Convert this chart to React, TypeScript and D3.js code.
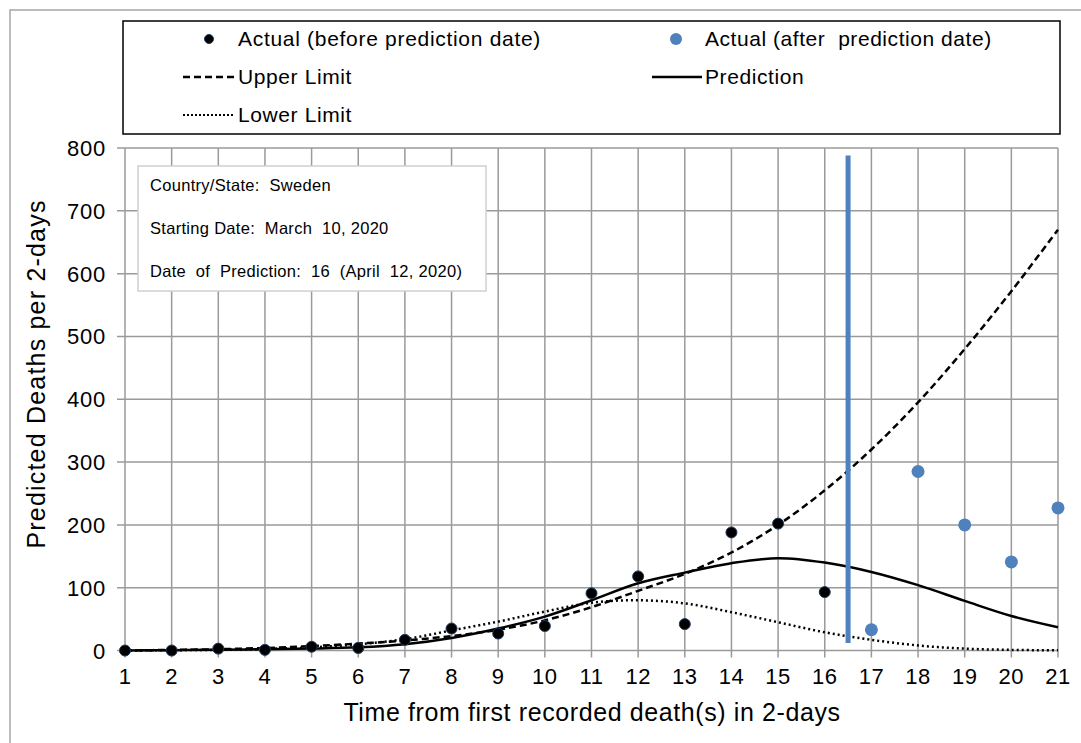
import React from "react";
import * as d3 from "d3";

const timeSteps = [1, 2, 3, 4, 5, 6, 7, 8, 9, 10, 11, 12, 13, 14, 15, 16, 17, 18, 19, 20, 21];
const upperLimit = [0, 1, 2, 4, 7, 11, 16, 23, 33, 48, 69, 95, 122, 156, 200, 255, 320, 395, 480, 572, 670];
const prediction = [0, 0.5, 1, 2, 3, 5, 10, 20, 35, 54, 80, 107, 124, 139, 147, 140, 125, 104, 79, 55, 37];
const lowerLimit = [0, 0.5, 1, 2.5, 5, 10, 18, 32, 46, 62, 76, 80, 75, 61, 45, 29, 17, 8, 3, 1, 0.3];

const actualBeforeX = [1, 2, 3, 4, 5, 6, 7, 8, 9, 10, 11, 12, 13, 14, 15, 16];
const actualBeforeY = [0, 0, 3, 1, 6, 4, 17, 35, 27, 39, 91, 118, 42, 188, 202, 93];
const actualAfterX = [17, 18, 19, 20, 21];
const actualAfterY = [33, 285, 200, 141, 227];

const predictionDate = 16.5;
const predictionLineRange = [12, 788];

const yTicks = [0, 100, 200, 300, 400, 500, 600, 700, 800];
const xTicks = timeSteps;

const infoLines = [
  "Country/State:  Sweden",
  "Starting Date:  March  10, 2020",
  "Date  of  Prediction:  16  (April  12, 2020)",
];

const FONT = "'Liberation Sans', Arial, sans-serif";
const BLUE = "#4F81BD";

export default function App() {
  const x = d3.scaleLinear().domain([1, 21]).range([125, 1058]);
  const y = d3.scaleLinear().domain([0, 800]).range([650.5, 148]);

  const mk = (vals: number[]) =>
    d3
      .line<number>()
      .x((_, i) => x(timeSteps[i]))
      .y((d) => y(d))
      .curve(d3.curveCatmullRom.alpha(0.5))(vals) || "";

  return (
    <svg width={1081} height={743} style={{ position: "absolute", left: 0, top: 0, background: "#fff" }}>
      <rect x={0} y={0} width={1081} height={743} fill="#fff" />
      {/* outer frame */}
      <rect x={10} y={10} width={1090} height={760} fill="none" stroke="#a6a6a6" strokeWidth={1.5} />

      {/* grid */}
      {yTicks.map((t) => (
        <line key={"gy" + t} x1={117} x2={x(21)} y1={y(t)} y2={y(t)} stroke="#9a9a9a" strokeWidth={1.5} />
      ))}
      {xTicks.map((t) => (
        <line key={"gx" + t} x1={x(t)} x2={x(t)} y1={y(800)} y2={y(0) + 7} stroke="#9a9a9a" strokeWidth={1.5} />
      ))}

      {/* y tick labels */}
      {yTicks.map((t) => (
        <text key={"ty" + t} x={106} y={y(t) + 8} textAnchor="end" fontFamily={FONT} fontSize={22} letterSpacing={0.8} fill="#000">
          {t}
        </text>
      ))}
      {/* x tick labels */}
      {xTicks.map((t) => (
        <text key={"tx" + t} x={x(t)} y={684} textAnchor="middle" fontFamily={FONT} fontSize={22} letterSpacing={0.5} fill="#000">
          {t}
        </text>
      ))}

      {/* axis titles */}
      <text x={592} y={721} textAnchor="middle" fontFamily={FONT} fontSize={25} letterSpacing={0.6} fill="#000">
        Time from first recorded death(s) in 2-days
      </text>
      <text
        transform={`translate(45, 374) rotate(-90)`}
        textAnchor="middle"
        fontFamily={FONT}
        fontSize={25}
        letterSpacing={1.2}
        fill="#000"
      >
        Predicted Deaths per 2-days
      </text>

      {/* series lines */}
      <path d={mk(lowerLimit)} fill="none" stroke="#000" strokeWidth={2.5} strokeDasharray="2,3" />
      <path d={mk(upperLimit)} fill="none" stroke="#000" strokeWidth={2.5} strokeDasharray="7,4" />
      <path d={mk(prediction)} fill="none" stroke="#000" strokeWidth={2.5} />

      {/* prediction date line */}
      <line
        x1={x(predictionDate)}
        x2={x(predictionDate)}
        y1={y(predictionLineRange[0])}
        y2={y(predictionLineRange[1])}
        stroke={BLUE}
        strokeWidth={5}
      />

      {/* actual points */}
      {actualBeforeX.map((t, i) => (
        <circle key={"b" + t} cx={x(t)} cy={y(actualBeforeY[i])} r={5.5} fill="#000" stroke="#1f3a60" strokeWidth={1} />
      ))}
      {actualAfterX.map((t, i) => (
        <circle key={"a" + t} cx={x(t)} cy={y(actualAfterY[i])} r={6.5} fill={BLUE} />
      ))}

      {/* info box */}
      <rect x={138} y={166} width={348} height={125} fill="#fff" stroke="#d0d0d0" strokeWidth={1.5} />
      {infoLines.map((s, i) => (
        <text key={"info" + i} x={150} y={191 + i * 43} fontFamily={FONT} fontSize={16.5} letterSpacing={0.3} fill="#000" style={{ whiteSpace: "pre" }}>
          {s}
        </text>
      ))}

      {/* legend */}
      <rect x={123} y={21} width={937} height={113} fill="#fff" stroke="#000" strokeWidth={1.5} />
      <circle cx={209} cy={39} r={4.5} fill="#000" stroke="#1f3a60" strokeWidth={1} />
      <text x={238} y={46} fontFamily={FONT} fontSize={21} letterSpacing={0.7} fill="#000">
        Actual (before prediction date)
      </text>
      <circle cx={676} cy={39} r={6} fill={BLUE} />
      <text x={705} y={46} fontFamily={FONT} fontSize={21} letterSpacing={0.55} fill="#000" style={{ whiteSpace: "pre" }}>
        {"Actual (after  prediction date)"}
      </text>
      <line x1={183} x2={235} y1={77} y2={77} stroke="#000" strokeWidth={2.5} strokeDasharray="7,4" />
      <text x={238} y={84} fontFamily={FONT} fontSize={21} letterSpacing={0.6} fill="#000">
        Upper Limit
      </text>
      <line x1={652} x2={702} y1={77} y2={77} stroke="#000" strokeWidth={2.5} />
      <text x={705} y={84} fontFamily={FONT} fontSize={21} letterSpacing={0.6} fill="#000">
        Prediction
      </text>
      <line x1={183} x2={235} y1={115} y2={115} stroke="#000" strokeWidth={2} strokeDasharray="2,2" />
      <text x={238} y={122} fontFamily={FONT} fontSize={21} letterSpacing={0.6} fill="#000">
        Lower Limit
      </text>
    </svg>
  );
}
